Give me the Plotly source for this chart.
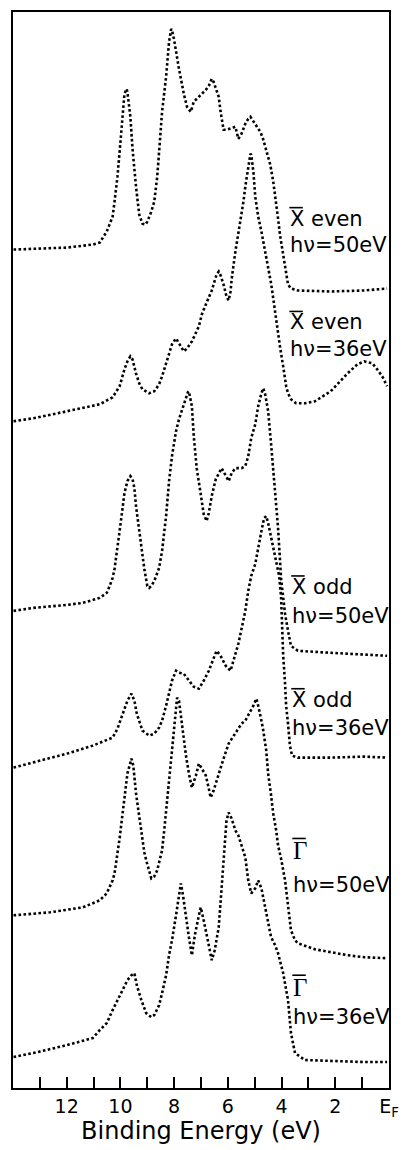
import plotly.graph_objects as go

# Binding energies (eV) and intensities (arb. units, including vertical offset)
xe50_E = [13.98, 13.24, 11.99, 11.03, 10.77, 10.51, 10.29, 10.22, 10.11, 10.03, 9.92, 9.85, 9.77, 9.74, 9.63, 9.55, 9.42, 9.30, 9.18, 9.07, 9.00, 8.85, 8.74, 8.63, 8.56, 8.45, 8.30, 8.26, 8.19, 8.11, 8.08, 8.00, 7.93, 7.82, 7.71, 7.64, 7.52, 7.38, 7.27, 7.08, 6.82, 6.71, 6.60, 6.53, 6.42, 6.34, 6.27, 6.16, 6.05, 5.86, 5.72, 5.61, 5.49, 5.35, 5.24, 5.16, 5.05, 4.94, 4.87, 4.79, 4.68, 4.61, 4.50, 4.42, 4.31, 4.24, 4.13, 4.06, 3.94, 3.87, 3.76, 3.65, 3.39, 2.17, 0.92, 0.07]
xe50_I = [840, 841, 842, 845, 847, 858, 873, 888, 913, 938, 973, 996, 1001, 998, 973, 941, 903, 875, 866, 865, 868, 878, 888, 913, 938, 978, 1013, 1028, 1048, 1061, 1060, 1050, 1038, 1021, 1006, 996, 983, 978, 988, 993, 1000, 1004, 1011, 1008, 1000, 993, 978, 960, 960, 962, 963, 951, 956, 966, 971, 973, 969, 964, 961, 958, 950, 943, 931, 925, 908, 895, 871, 855, 835, 821, 805, 801, 799, 798, 799, 801]

xe36_E = [13.98, 13.24, 11.99, 10.77, 10.29, 10.03, 9.85, 9.74, 9.63, 9.55, 9.42, 9.30, 9.18, 8.93, 8.74, 8.56, 8.45, 8.30, 8.19, 8.08, 7.93, 7.82, 7.71, 7.64, 7.52, 7.34, 7.08, 6.97, 6.82, 6.71, 6.60, 6.42, 6.34, 6.27, 6.16, 6.05, 5.97, 5.90, 5.86, 5.72, 5.61, 5.53, 5.42, 5.35, 5.24, 5.16, 5.13, 5.05, 4.98, 4.87, 4.75, 4.61, 4.50, 4.39, 4.31, 4.20, 4.06, 3.94, 3.83, 3.76, 3.65, 3.46, 3.13, 2.76, 2.17, 1.54, 1.18, 0.92, 0.62, 0.44, 0.25, 0.07]
xe36_I = [668, 671, 678, 685, 692, 703, 720, 728, 733, 730, 716, 706, 700, 696, 698, 705, 713, 726, 736, 745, 751, 746, 740, 738, 741, 748, 763, 775, 785, 792, 799, 815, 818, 814, 805, 793, 789, 798, 810, 838, 855, 868, 888, 903, 925, 936, 935, 918, 893, 873, 858, 838, 825, 806, 791, 768, 743, 723, 703, 696, 690, 686, 686, 688, 698, 716, 725, 728, 726, 720, 713, 703]

xo50_E = [13.98, 13.24, 11.99, 11.40, 10.77, 10.51, 10.40, 10.29, 10.22, 10.11, 10.03, 9.92, 9.85, 9.74, 9.63, 9.55, 9.48, 9.42, 9.30, 9.22, 9.11, 9.00, 8.93, 8.85, 8.74, 8.56, 8.45, 8.30, 8.19, 8.08, 7.93, 7.82, 7.64, 7.49, 7.45, 7.34, 7.27, 7.16, 7.01, 6.90, 6.79, 6.71, 6.60, 6.45, 6.23, 6.08, 5.97, 5.86, 5.72, 5.49, 5.35, 5.24, 5.13, 4.98, 4.87, 4.75, 4.68, 4.61, 4.50, 4.39, 4.24, 4.13, 4.02, 3.94, 3.87, 3.76, 3.65, 3.50, 3.39, 2.17, 0.92, 0.07]
xo50_I = [478, 481, 484, 486, 491, 496, 503, 511, 520, 540, 558, 581, 596, 608, 613, 610, 601, 583, 558, 540, 520, 503, 501, 503, 508, 521, 538, 573, 608, 633, 658, 670, 685, 697, 698, 683, 653, 621, 595, 575, 568, 576, 593, 610, 621, 613, 608, 616, 621, 621, 623, 633, 651, 665, 683, 696, 701, 695, 678, 645, 601, 561, 511, 491, 475, 458, 443, 440, 438, 436, 434, 433]

xo36_E = [13.98, 13.24, 11.99, 11.03, 10.29, 10.11, 9.92, 9.74, 9.59, 9.48, 9.39, 9.18, 8.93, 8.74, 8.56, 8.45, 8.30, 8.19, 8.08, 7.93, 7.82, 7.64, 7.45, 7.27, 7.08, 6.90, 6.71, 6.53, 6.42, 6.27, 6.08, 5.90, 5.79, 5.61, 5.49, 5.35, 5.24, 5.13, 4.98, 4.87, 4.75, 4.65, 4.57, 4.50, 4.39, 4.20, 4.09, 4.02, 3.98, 3.94, 3.87, 3.83, 3.76, 3.69, 3.61, 3.39, 2.17, 0.92, 0.07]
xo36_I = [321, 326, 335, 343, 351, 360, 375, 388, 395, 388, 375, 358, 353, 355, 361, 368, 383, 395, 408, 418, 416, 415, 408, 402, 400, 408, 418, 430, 438, 433, 423, 418, 428, 445, 460, 478, 498, 513, 525, 543, 558, 571, 573, 566, 551, 528, 513, 493, 458, 433, 405, 383, 365, 343, 333, 331, 331, 332, 331]

g50_E = [13.98, 12.62, 11.40, 10.77, 10.51, 10.29, 10.22, 10.11, 10.03, 9.92, 9.81, 9.74, 9.59, 9.52, 9.42, 9.30, 9.22, 9.11, 9.04, 8.85, 8.74, 8.63, 8.56, 8.45, 8.37, 8.26, 8.19, 8.08, 8.00, 7.89, 7.82, 7.75, 7.64, 7.56, 7.45, 7.34, 7.19, 7.08, 6.97, 6.82, 6.71, 6.64, 6.53, 6.34, 6.16, 5.97, 5.72, 5.49, 5.35, 5.24, 5.05, 4.94, 4.87, 4.75, 4.68, 4.57, 4.50, 4.39, 4.31, 4.20, 4.13, 4.02, 3.94, 3.87, 3.76, 3.65, 3.50, 3.39, 2.76, 2.17, 1.54, 0.92, 0.07]
g50_I = [173, 176, 181, 188, 195, 208, 215, 235, 250, 275, 298, 315, 330, 323, 295, 273, 255, 236, 228, 210, 212, 218, 226, 238, 258, 288, 313, 341, 363, 391, 388, 373, 348, 333, 315, 301, 313, 325, 320, 313, 300, 291, 298, 315, 330, 345, 355, 365, 368, 373, 383, 390, 383, 368, 358, 338, 315, 293, 275, 258, 243, 230, 218, 208, 183, 158, 148, 145, 139, 136, 133, 131, 130]

g36_E = [13.98, 13.24, 11.99, 11.03, 10.77, 10.51, 10.29, 10.11, 9.92, 9.74, 9.59, 9.48, 9.39, 9.22, 9.04, 8.85, 8.74, 8.56, 8.45, 8.30, 8.19, 8.08, 7.93, 7.82, 7.75, 7.67, 7.56, 7.45, 7.34, 7.23, 7.08, 7.01, 6.90, 6.79, 6.71, 6.60, 6.49, 6.34, 6.27, 6.20, 6.12, 6.05, 5.97, 5.86, 5.72, 5.61, 5.49, 5.35, 5.24, 5.13, 4.98, 4.87, 4.75, 4.61, 4.50, 4.39, 4.24, 4.13, 3.94, 3.83, 3.76, 3.65, 3.50, 3.13, 2.17, 0.92, 0.07]
g36_I = [31, 35, 43, 50, 58, 65, 78, 88, 98, 108, 113, 115, 103, 88, 75, 71, 73, 83, 95, 113, 133, 148, 173, 195, 205, 193, 171, 151, 133, 153, 173, 181, 168, 155, 143, 128, 138, 161, 188, 215, 248, 268, 276, 270, 258, 253, 243, 231, 208, 195, 200, 208, 200, 181, 168, 151, 143, 135, 115, 98, 88, 55, 35, 28, 27, 26, 26]

spectra = [
    (xe50_E, xe50_I),
    (xe36_E, xe36_I),
    (xo50_E, xo50_I),
    (xo36_E, xo36_I),
    (g50_E, g50_I),
    (g36_E, g36_I),
]

# Labels for each spectrum (the symbol carries an overbar)
label_sym = ["X even", "X even", "X odd", "X odd", "\u0393", "\u0393"]
label_hv = ["h\u03bd=50eV", "h\u03bd=36eV", "h\u03bd=50eV", "h\u03bd=36eV", "h\u03bd=50eV", "h\u03bd=36eV"]

major_ticks = [0, 2, 4, 6, 8, 10, 12]
major_text = ["E<sub>F</sub>", "2", "4", "6", "8", "10", "12"]

# label placement (layout only)
lab_x = [3.76, 3.76, 3.69, 3.69, 3.65, 3.65]
sym_y = [871, 767, 502, 389, 238, 101]
hv_y = [845, 740, 473, 361, 203, 71]

fig = go.Figure()
for E, I in spectra:
    fig.add_trace(go.Scatter(
        x=E, y=I, mode="lines",
        line=dict(color="black", width=2.6, dash="2.6px,2.4px"),
        hoverinfo="skip", showlegend=False,
    ))

for i in range(6):
    is_gamma = label_sym[i] == "\u0393"
    fig.add_annotation(
        x=lab_x[i], y=sym_y[i], xref="x", yref="y",
        text=label_sym[i], showarrow=False, xanchor="left", yanchor="middle",
        font=dict(family="Liberation Serif" if is_gamma else "DejaVu Sans",
                  size=25 if is_gamma else 21, color="black"),
    )
    fig.add_annotation(
        x=lab_x[i], y=hv_y[i], xref="x", yref="y",
        text=label_hv[i], showarrow=False, xanchor="left", yanchor="middle",
        font=dict(family="DejaVu Sans", size=21, color="black"),
    )
    # overbar over the symbol
    bar_off = 12 if is_gamma else 11
    fig.add_shape(
        type="line", xref="x", yref="y",
        x0=lab_x[i] - 0.05, x1=lab_x[i] - 0.55,
        y0=sym_y[i] + bar_off, y1=sym_y[i] + bar_off,
        line=dict(color="black", width=1.6),
    )

fig.update_layout(
    width=409, height=1150,
    margin=dict(l=13, r=17, t=10, b=62),
    paper_bgcolor="white", plot_bgcolor="white",
    font=dict(family="DejaVu Sans", color="black"),
    xaxis=dict(
        range=[14, 0], showgrid=False, zeroline=False,
        showline=True, linecolor="black", linewidth=2, mirror=True,
        ticks="inside", ticklen=11, tickwidth=2, tickcolor="black",
        tickvals=major_ticks, ticktext=major_text,
        minor=dict(ticks="inside", ticklen=11, tickwidth=2, tickcolor="black", dtick=1, tick0=0, showgrid=False),
        tickfont=dict(size=19, family="DejaVu Sans", color="black"),
        title=dict(text="Binding Energy (eV)", font=dict(size=24, family="DejaVu Sans", color="black"), standoff=2),
    ),
    yaxis=dict(
        range=[0, 1078], showgrid=False, zeroline=False,
        showline=True, linecolor="black", linewidth=2, mirror=True,
        showticklabels=False, ticks="",
    ),
)

fig.write_html("out.html")
